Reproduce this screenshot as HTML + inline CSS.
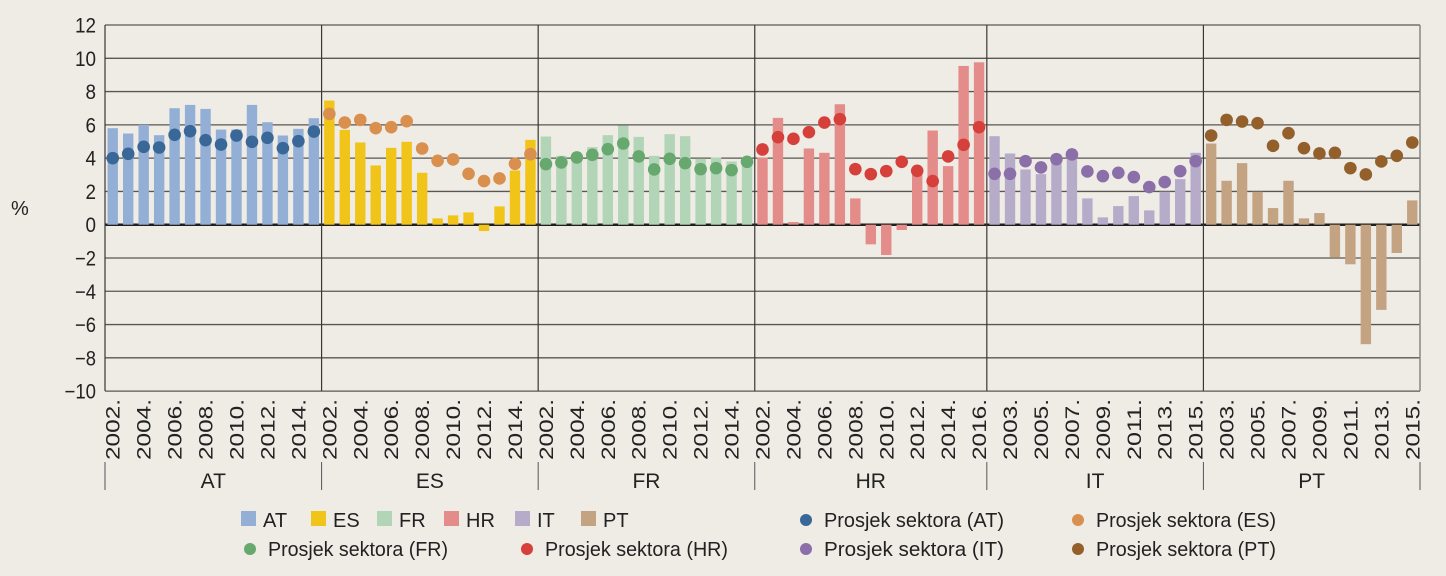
<!DOCTYPE html>
<html><head><meta charset="utf-8"><style>
html,body{margin:0;padding:0;background:#efece6;}
svg{display:block;font-family:"Liberation Sans Narrow","Liberation Sans",sans-serif;}
</style></head><body>
<svg id="c" width="1446" height="576" xmlns="http://www.w3.org/2000/svg"></svg>
<script>
const s=document.getElementById('c');
let h='<rect width="1446" height="576" fill="#efece6"/>';
const L=105,R=1420,T=25,B=391,Z=224.7,U=16.64;
const y=v=>Z-v*U;
for(let v=-10;v<=12;v+=2){h+=`<line x1="${L}" x2="${R}" y1="${y(v)}" y2="${y(v)}" stroke="${v==0?'#1e1e1e':'#5a5652'}" stroke-width="${v==0?2.5:1.3}"/>`;
const t=v<0?'−'+(-v):''+v;
h+=`<text x="96" y="${y(v)+7.5}" font-size="21" text-anchor="end" fill="#222" textLength="${t.length*10.5}" lengthAdjust="spacingAndGlyphs">${t}</text>`;}
h+=`<text x="11" y="215" font-size="20" fill="#222">%</text>`;
const G=[
{n:'AT',bc:'#94afd5',dc:'#386798',s:2002,odd:0,
b:[5.8,5.48,6.0,5.38,7.0,7.2,6.96,5.72,5.72,7.2,6.16,5.36,5.76,6.4],
d:[4.0,4.26,4.68,4.64,5.4,5.62,5.08,4.82,5.36,4.98,5.22,4.6,5.02,5.6]},
{n:'ES',bc:'#f1c419',dc:'#d98f4e',s:2002,odd:0,
b:[7.46,5.7,4.94,3.56,4.62,4.98,3.12,0.38,0.56,0.74,-0.38,1.1,3.26,5.1],
d:[6.66,6.14,6.3,5.8,5.86,6.22,4.58,3.84,3.92,3.06,2.62,2.78,3.66,4.24]},
{n:'FR',bc:'#b2d4b7',dc:'#66a86e',s:2002,odd:0,
b:[5.3,4.14,4.1,4.66,5.38,5.96,5.28,4.14,5.44,5.32,3.96,4.04,3.8,3.9],
d:[3.64,3.74,4.04,4.2,4.54,4.88,4.1,3.32,3.96,3.7,3.34,3.4,3.28,3.78]},
{n:'HR',bc:'#e38c89',dc:'#d6403b',s:2002,odd:0,
b:[4.04,6.42,0.16,4.58,4.32,7.24,1.58,-1.18,-1.82,-0.32,3.2,5.66,3.52,9.54,9.76],
d:[4.52,5.26,5.16,5.56,6.14,6.34,3.34,3.04,3.22,3.78,3.24,2.62,4.1,4.8,5.86]},
{n:'IT',bc:'#b6acca',dc:'#8b6fa8',s:2002,odd:1,
b:[5.32,4.28,3.32,3.04,3.9,4.2,1.58,0.44,1.12,1.72,0.86,1.98,2.74,4.32],
d:[3.06,3.06,3.82,3.44,3.94,4.22,3.2,2.92,3.12,2.86,2.26,2.56,3.22,3.82]},
{n:'PT',bc:'#c4a382',dc:'#93602c',s:2002,odd:1,
b:[4.88,2.64,3.7,1.98,1.0,2.64,0.38,0.7,-1.98,-2.38,-7.18,-5.12,-1.7,1.46],
d:[5.36,6.3,6.2,6.1,4.74,5.5,4.6,4.28,4.32,3.4,3.02,3.8,4.14,4.94]}];
const slot=(R-L)/85;let i0=0,bars='',dots='',lab='';
G.forEach((g,gi)=>{const x0=L+i0*slot,n=g.b.length,x1=x0+n*slot;
 g.b.forEach((v,i)=>{const cx=x0+(i+0.5)*slot;bars+=`<rect x="${cx-5.2}" y="${Math.min(y(v),Z)}" width="10.4" height="${Math.abs(v*U)}" fill="${g.bc}"/>`;
  dots+=`<circle cx="${cx}" cy="${y(g.d[i])}" r="6.3" fill="${g.dc}"/>`;
  if(i%2==g.odd){lab+=`<text transform="translate(${cx+7},399) rotate(-90)" font-size="19" text-anchor="end" fill="#222" textLength="61" lengthAdjust="spacingAndGlyphs">${g.s+i}.</text>`;}});
 h+=`<line x1="${x0}" x2="${x0}" y1="${T}" y2="${B}" stroke="#3a3734" stroke-width="1.2"/>`;
 h+=`<line x1="${x0}" x2="${x0}" y1="462" y2="490" stroke="#555" stroke-width="1"/>`;
 lab+=`<text x="${(x0+x1)/2}" y="488" font-size="21" text-anchor="middle" fill="#222">${g.n}</text>`;
 i0+=n;});
h+=`<line x1="${R}" x2="${R}" y1="${T}" y2="${B}" stroke="#8a8580" stroke-width="1.5"/>`;
h+=`<line x1="${R}" x2="${R}" y1="462" y2="490" stroke="#555" stroke-width="1"/>`;
h+=bars+dots+lab;
const sq=[[241,'AT'],[311,'ES'],[377,'FR'],[444,'HR'],[515,'IT'],[581,'PT']];
sq.forEach((q,k)=>{h+=`<rect x="${q[0]}" y="511" width="15" height="15" fill="${G[k].bc}"/><text x="${q[0]+22}" y="527" font-size="20" fill="#222">${q[1]}</text>`;});
const dl=[[806,520,0],[1078,520,1],[250,549,2],[527,549,3],[806,549,4],[1078,549,5]];
dl.forEach(d=>{const g=G[d[2]];h+=`<circle cx="${d[0]}" cy="${d[1]}" r="6" fill="${g.dc}"/><text x="${d[0]+18}" y="${d[1]+7}" font-size="20" fill="#222" textLength="${g.n=='HR'?183:180}" lengthAdjust="spacingAndGlyphs">Prosjek sektora (${g.n})</text>`;});
s.innerHTML=h;
</script>
</body></html>
